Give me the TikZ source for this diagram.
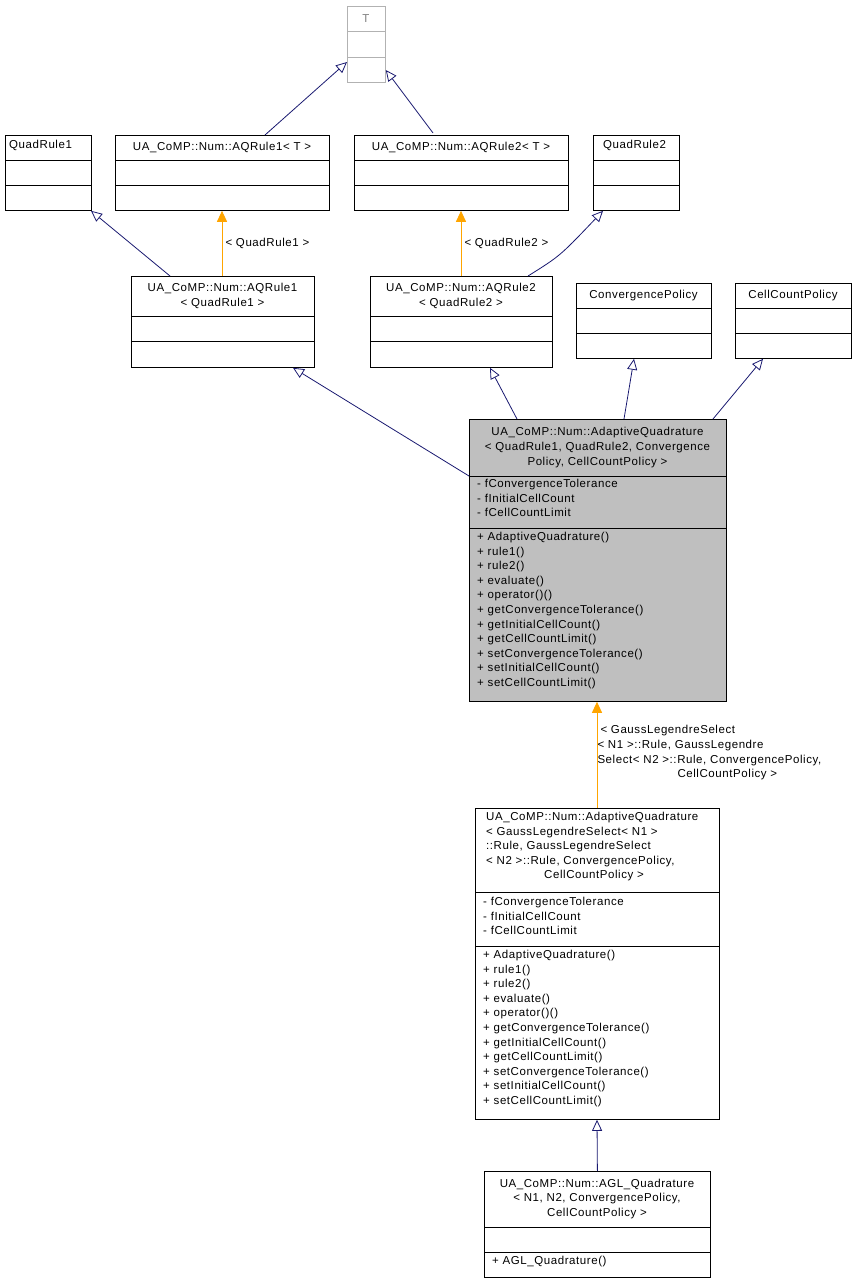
\documentclass[tikz,border=0pt]{standalone}
\usepackage{fontspec}
\setmainfont{Liberation Sans}[LetterSpace=5]
\usetikzlibrary{calc,arrows.meta}
\begin{document}
\begin{tikzpicture}[
        x=1pt, y=-1pt,
        font=\fontsize{11.5}{14.6}\selectfont,
        box/.style={rectangle, draw, line width=0.8pt, inner sep=0, anchor=north west},
        ghost/.style={box, draw=black!30},
        heading/.style={inner sep=0, align=center},
        members/.style={inner sep=0, anchor=north west, align=left},
        sep/.style={line width=0.8pt},
        inherit/.style={draw={rgb,255:red,25;green,25;blue,112}, line width=0.8pt, -{Triangle[open, length=11pt, width=10pt, fill=white]}},
        usage/.style={draw={rgb,255:red,255;green,165;blue,0}, line width=1pt, -{Triangle[length=11pt, width=10pt]}},
        edge_label/.style={inner sep=0, text=black, align=left}
    ]
        \useasboundingbox (0,0) rectangle (857,1283);

        % template parameter T
        \node[ghost, minimum width=38, minimum height=76] (t) at (347,6) {};
        \draw[draw=black!30, line width=0.8pt] (347,31) -- (385,31) (347,57) -- (385,57);
        \node[heading, text=black!50] (t_title) at (366,18.5) {T};

        % top row
        \node[box, minimum width=86, minimum height=75] (quadrule1) at (5,135) {};
        \draw[sep] (5,160) -- (91,160) (5,185) -- (91,185);
        \node[members] (quadrule1_title) at (9,140) {QuadRule1};

        \node[box, minimum width=214, minimum height=75] (aqrule1_t) at (115,135) {};
        \draw[sep] (115,160) -- (329,160) (115,185) -- (329,185);
        \node[heading] (aqrule1_t_title) at (222,147.5) {UA\_CoMP::Num::AQRule1< T >};

        \node[box, minimum width=214, minimum height=75] (aqrule2_t) at (354,135) {};
        \draw[sep] (354,160) -- (568,160) (354,185) -- (568,185);
        \node[heading] (aqrule2_t_title) at (461,147.5) {UA\_CoMP::Num::AQRule2< T >};

        \node[box, minimum width=86, minimum height=75] (quadrule2) at (593,135) {};
        \draw[sep] (593,160) -- (679,160) (593,185) -- (679,185);
        \node[members] (quadrule2_title) at (603,140) {QuadRule2};

        % instantiated rules and policies
        \node[box, minimum width=183, minimum height=91] (aqrule1_q) at (131,276) {};
        \draw[sep] (131,316) -- (314,316) (131,341) -- (314,341);
        \node[heading] (aqrule1_q_title) at (222.5,296) {UA\_CoMP::Num::AQRule1\\< QuadRule1 >};

        \node[box, minimum width=182, minimum height=91] (aqrule2_q) at (370,276) {};
        \draw[sep] (370,316) -- (552,316) (370,341) -- (552,341);
        \node[heading] (aqrule2_q_title) at (461,296) {UA\_CoMP::Num::AQRule2\\< QuadRule2 >};

        \node[box, minimum width=135, minimum height=75] (convpolicy) at (576,283) {};
        \draw[sep] (576,308) -- (711,308) (576,333) -- (711,333);
        \node[heading] (convpolicy_title) at (643.5,295.5) {ConvergencePolicy};

        \node[box, minimum width=116, minimum height=75] (cellpolicy) at (735,283) {};
        \draw[sep] (735,308) -- (851,308) (735,333) -- (851,333);
        \node[heading] (cellpolicy_title) at (793,295.5) {CellCountPolicy};

        % AdaptiveQuadrature (highlighted)
        \node[box, fill=black!25, minimum width=257, minimum height=282] (adaptive) at (469,419) {};
        \draw[sep] (469,476) -- (726,476) (469,528) -- (726,528);
        \node[heading] (adaptive_title) at (597.5,447.5) {UA\_CoMP::Num::AdaptiveQuadrature\\< QuadRule1, QuadRule2, Convergence\\Policy, CellCountPolicy >};
        \node[members] (adaptive_attr) at (477,479) {- fConvergenceTolerance\\- fInitialCellCount\\- fCellCountLimit};
        \node[members] (adaptive_ops) at (477,532) {+ AdaptiveQuadrature()\\+ rule1()\\+ rule2()\\+ evaluate()\\+ operator()()\\+ getConvergenceTolerance()\\+ getInitialCellCount()\\+ getCellCountLimit()\\+ setConvergenceTolerance()\\+ setInitialCellCount()\\+ setCellCountLimit()};

        % AdaptiveQuadrature with GaussLegendre rules
        \node[box, minimum width=244, minimum height=311] (adaptive_gl) at (475,808) {};
        \draw[sep] (475,892) -- (719,892) (475,946) -- (719,946);
        \node[members] (adaptive_gl_title) at (486,812) {UA\_CoMP::Num::AdaptiveQuadrature\\< GaussLegendreSelect< N1 >\\::Rule, GaussLegendreSelect\\< N2 >::Rule, ConvergencePolicy,\\\hspace*{58pt}CellCountPolicy >};
        \node[members] (adaptive_gl_attr) at (483,897) {- fConvergenceTolerance\\- fInitialCellCount\\- fCellCountLimit};
        \node[members] (adaptive_gl_ops) at (483,950) {+ AdaptiveQuadrature()\\+ rule1()\\+ rule2()\\+ evaluate()\\+ operator()()\\+ getConvergenceTolerance()\\+ getInitialCellCount()\\+ getCellCountLimit()\\+ setConvergenceTolerance()\\+ setInitialCellCount()\\+ setCellCountLimit()};

        % AGL_Quadrature
        \node[box, minimum width=226, minimum height=106] (agl) at (484,1171) {};
        \draw[sep] (484,1227) -- (710,1227) (484,1252) -- (710,1252);
        \node[heading] (agl_title) at (597,1199) {UA\_CoMP::Num::AGL\_Quadrature\\< N1, N2, ConvergencePolicy,\\CellCountPolicy >};
        \node[members] (agl_ops) at (492,1256) {+ AGL\_Quadrature()};

        % generalisations
        \draw[inherit] ($(aqrule1_t.north west)+(150,0)$) -- ($(t.north west)+(0,56)$);
        \draw[inherit] ($(aqrule2_t.north west)+(79,-2)$) -- ($(t.north east)+(0,64)$);
        \draw[inherit] ($(aqrule1_q.north west)+(39,0)$) -- ($(quadrule1.south west)+(86,0)$);
        \draw[inherit] ($(aqrule2_q.north west)+(158,0)$) .. controls ($(aqrule2_q.north west)+(190,-20)$) .. ($(quadrule2.south west)+(10,0)$);
        \draw[inherit] ($(adaptive.north west)+(0,57)$) -- ($(aqrule1_q.south west)+(162,0)$);
        \draw[inherit] ($(adaptive.north west)+(48,0)$) -- ($(aqrule2_q.south west)+(120,0)$);
        \draw[inherit] ($(adaptive.north west)+(155,0)$) -- ($(convpolicy.south west)+(58,0)$);
        \draw[inherit] ($(adaptive.north west)+(244,0)$) -- ($(cellpolicy.south west)+(28,0)$);
        \draw[inherit] (agl.north) -- ($(adaptive_gl.south west)+(122,0)$);

        % template bindings
        \draw[usage] ($(aqrule1_q.north west)+(91,0)$) -- ($(aqrule1_t.south west)+(107,0)$)
            node[edge_label, midway, right=3pt] {< QuadRule1 >};
        \draw[usage] ($(aqrule2_q.north west)+(91,0)$) -- ($(aqrule2_t.south west)+(107,0)$)
            node[edge_label, midway, right=3pt] {< QuadRule2 >};
        \draw[usage] ($(adaptive_gl.north west)+(122,0)$) -- ($(adaptive.south west)+(128,0)$)
            node[edge_label, anchor=north west] at (597,725) {\hspace*{3pt}< GaussLegendreSelect\\< N1 >::Rule, GaussLegendre\\Select< N2 >::Rule, ConvergencePolicy,\\\hspace*{80pt}CellCountPolicy >};
    \end{tikzpicture}
\end{document}
